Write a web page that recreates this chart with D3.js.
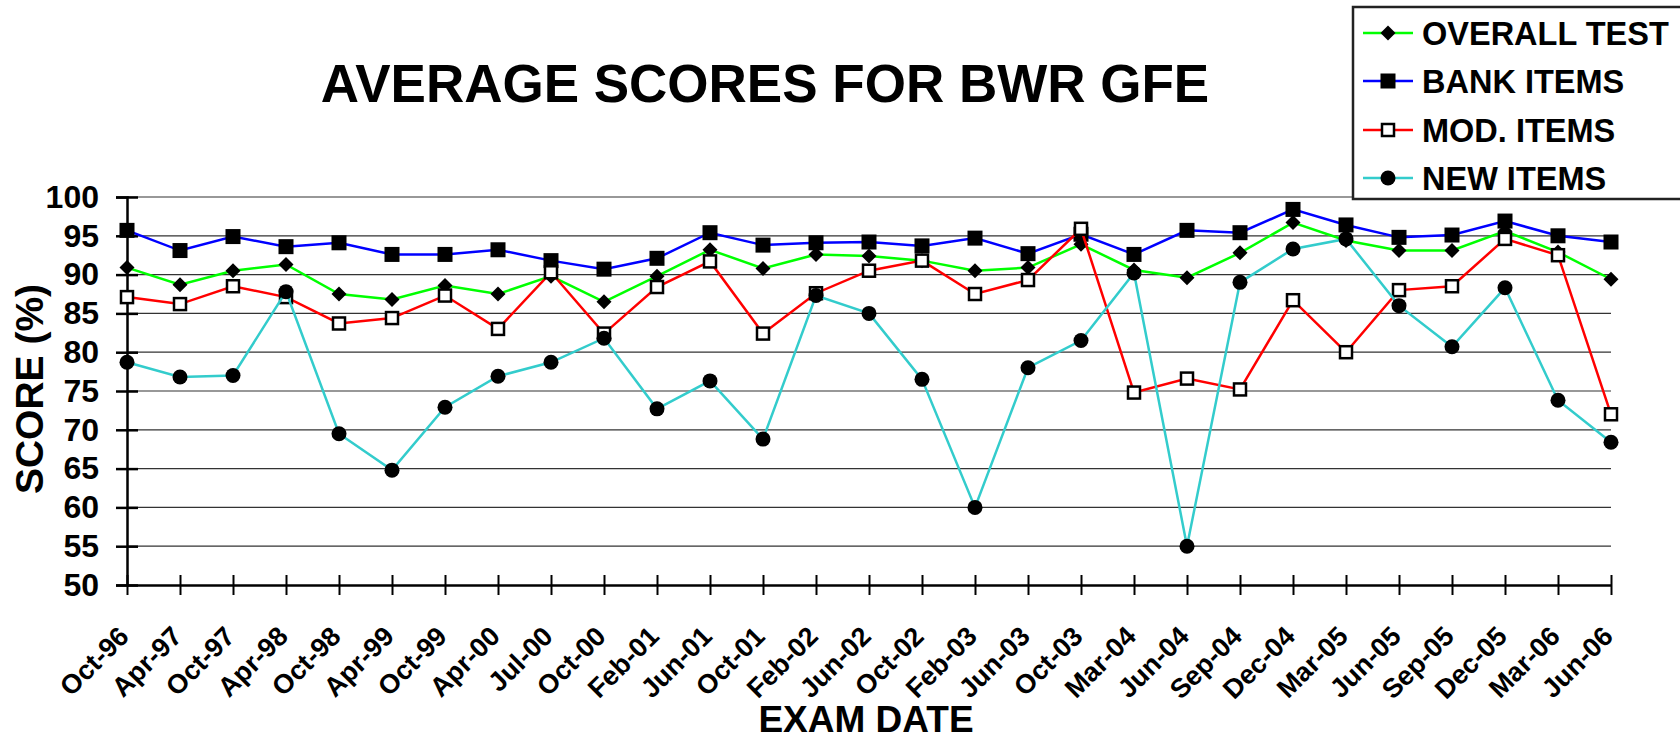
<!DOCTYPE html>
<html>
<head>
<meta charset="utf-8">
<script src="https://cdn.jsdelivr.net/npm/d3@7"></script>
<style>
  html, body { margin: 0; padding: 0; background: #fff; }
  svg { display: block; font-family: "Liberation Sans", Arial, sans-serif; font-weight: bold; }
</style>
</head>
<body>
<svg id="chart" width="1680" height="742"></svg>
<script>
// ---------------------------
// Data
// ---------------------------
const categories = ['Oct-96', 'Apr-97', 'Oct-97', 'Apr-98', 'Oct-98', 'Apr-99', 'Oct-99', 'Apr-00', 'Jul-00',
  'Oct-00', 'Feb-01', 'Jun-01', 'Oct-01', 'Feb-02', 'Jun-02', 'Oct-02', 'Feb-03', 'Jun-03', 'Oct-03',
  'Mar-04', 'Jun-04', 'Sep-04', 'Dec-04', 'Mar-05', 'Jun-05', 'Sep-05', 'Dec-05', 'Mar-06', 'Jun-06'];

const overallTest = [90.9, 88.7, 90.5, 91.3, 87.5, 86.8, 88.6, 87.5, 89.8, 86.5, 89.8, 93.2, 90.8, 92.6, 92.4,
  91.8, 90.5, 90.9, 93.9, 90.6, 89.6, 92.8, 96.7, 94.4, 93.1, 93.1, 95.6, 92.9, 89.4];
const bankItems = [95.7, 93.1, 94.9, 93.6, 94.1, 92.6, 92.6, 93.2, 91.8, 90.7, 92.1, 95.4, 93.8, 94.1, 94.2,
  93.7, 94.7, 92.7, 95.2, 92.6, 95.7, 95.4, 98.4, 96.4, 94.8, 95.1, 96.9, 95.0, 94.2];
const modItems = [87.1, 86.2, 88.5, 87.1, 83.7, 84.4, 87.3, 83.0, 90.3, 82.4, 88.4, 91.7, 82.4, 87.6, 90.5,
  91.8, 87.5, 89.3, 95.9, 74.8, 76.6, 75.2, 86.7, 80.0, 88.0, 88.5, 94.6, 92.5, 72.0];
const newItems = [78.7, 76.8, 77.0, 87.8, 69.5, 64.8, 72.9, 76.9, 78.7, 81.8, 72.7, 76.3, 68.8, 87.3, 85.0,
  76.5, 60.0, 78.0, 81.5, 90.2, 55.0, 89.0, 93.3, 94.6, 86.0, 80.7, 88.3, 73.8, 68.4];

const yTicks = [50, 55, 60, 65, 70, 75, 80, 85, 90, 95, 100];

const series = [
  { name: 'OVERALL TEST', values: overallTest, color: '#00ff00', marker: 'diamond' },
  { name: 'BANK ITEMS', values: bankItems, color: '#0000ff', marker: 'square' },
  { name: 'MOD. ITEMS', values: modItems, color: '#ff0000', marker: 'openSquare' },
  { name: 'NEW ITEMS', values: newItems, color: '#33cccc', marker: 'circle' }
];

// ---------------------------
// Layout
// ---------------------------
const plot = { left: 127, right: 1611, top: 197, bottom: 585 };
const svg = d3.select('#chart');

const x = d3.scalePoint().domain(categories).range([plot.left, plot.right]).padding(0);
const y = d3.scaleLinear().domain([50, 100]).range([plot.bottom, plot.top]);

// ---------------------------
// Gridlines
// ---------------------------
svg.append('g')
  .selectAll('line')
  .data(yTicks.filter(t => t > 50))
  .join('line')
  .attr('x1', plot.left).attr('x2', plot.right)
  .attr('y1', d => y(d)).attr('y2', d => y(d))
  .attr('stroke', '#333').attr('stroke-width', 1.2);

// ---------------------------
// Axes
// ---------------------------
const yAxis = svg.append('g')
  .attr('transform', `translate(${plot.left},0)`)
  .call(d3.axisLeft(y).tickValues(yTicks).tickSize(11));
yAxis.select('.domain').attr('stroke', '#000').attr('stroke-width', 2.5);
yAxis.selectAll('.tick line').attr('x2', 11).attr('x1', -11).attr('stroke', '#000').attr('stroke-width', 2.5);
yAxis.selectAll('.tick text')
  .attr('x', -28)
  .style('font-size', '32px').style('font-weight', 'bold').attr('fill', '#000')
  .style('font-family', '"Liberation Sans", Arial, sans-serif');

const xAxis = svg.append('g')
  .attr('transform', `translate(0,${plot.bottom})`)
  .call(d3.axisBottom(x).tickSize(10).tickSizeOuter(0));
xAxis.select('.domain').attr('stroke', '#000').attr('stroke-width', 2.5);
xAxis.selectAll('.tick line').attr('y1', -10).attr('y2', 10).attr('stroke', '#000').attr('stroke-width', 2);
xAxis.selectAll('.tick text')
  .attr('y', 0).attr('dy', 0)
  .attr('text-anchor', 'end')
  .attr('transform', 'translate(3,53) rotate(-45)')
  .style('font-size', '27px').style('font-weight', 'bold').attr('fill', '#000')
  .style('font-family', '"Liberation Sans", Arial, sans-serif');

// ---------------------------
// Markers
// ---------------------------
function drawMarker(sel, type) {
  if (type === 'diamond') {
    sel.append('path').attr('d', 'M0,-7.5L7.5,0L0,7.5L-7.5,0Z').attr('fill', '#000');
  } else if (type === 'square') {
    sel.append('rect').attr('x', -7.5).attr('y', -7.5).attr('width', 15).attr('height', 15).attr('fill', '#000');
  } else if (type === 'openSquare') {
    sel.append('rect').attr('x', -6).attr('y', -6).attr('width', 12).attr('height', 12)
      .attr('fill', '#fff').attr('stroke', '#000').attr('stroke-width', 2.5);
  } else {
    sel.append('circle').attr('r', 7.5).attr('fill', '#000');
  }
}

// ---------------------------
// Series
// ---------------------------
const line = d3.line().x((d, i) => x(categories[i])).y(d => y(d));

series.forEach(s => {
  const g = svg.append('g');
  g.append('path')
    .attr('d', line(s.values))
    .attr('fill', 'none')
    .attr('stroke', s.color)
    .attr('stroke-width', 2.5);
  g.selectAll('g.pt')
    .data(s.values)
    .join('g')
    .attr('class', 'pt')
    .attr('transform', (d, i) => `translate(${x(categories[i])},${y(d)})`)
    .each(function () { drawMarker(d3.select(this), s.marker); });
});

// ---------------------------
// Titles
// ---------------------------
svg.append('text')
  .attr('x', 765).attr('y', 102)
  .attr('text-anchor', 'middle')
  .style('font-size', '53px')
  .text('AVERAGE SCORES FOR BWR GFE');

svg.append('text')
  .attr('transform', `translate(43,${(plot.top + plot.bottom) / 2 - 2}) rotate(-90)`)
  .attr('text-anchor', 'middle')
  .style('font-size', '39px')
  .text('SCORE (%)');

svg.append('text')
  .attr('x', 866).attr('y', 732)
  .attr('text-anchor', 'middle')
  .style('font-size', '37px')
  .text('EXAM DATE');

// ---------------------------
// Legend
// ---------------------------
const legend = svg.append('g').attr('transform', 'translate(1353,7)');
legend.append('rect')
  .attr('width', 340).attr('height', 192)
  .attr('fill', '#fff').attr('stroke', '#222').attr('stroke-width', 2.5);

const rowY = [26, 74, 123, 171];
series.forEach((s, i) => {
  const row = legend.append('g').attr('transform', `translate(0,${rowY[i]})`);
  row.append('line').attr('x1', 10).attr('x2', 60).attr('stroke', s.color).attr('stroke-width', 2.5);
  drawMarker(row.append('g').attr('transform', 'translate(35,0)'), s.marker);
  row.append('text')
    .attr('x', 69).attr('dy', '0.36em')
    .style('font-size', '32.5px')
    .text(s.name);
});
</script>
</body>
</html>
